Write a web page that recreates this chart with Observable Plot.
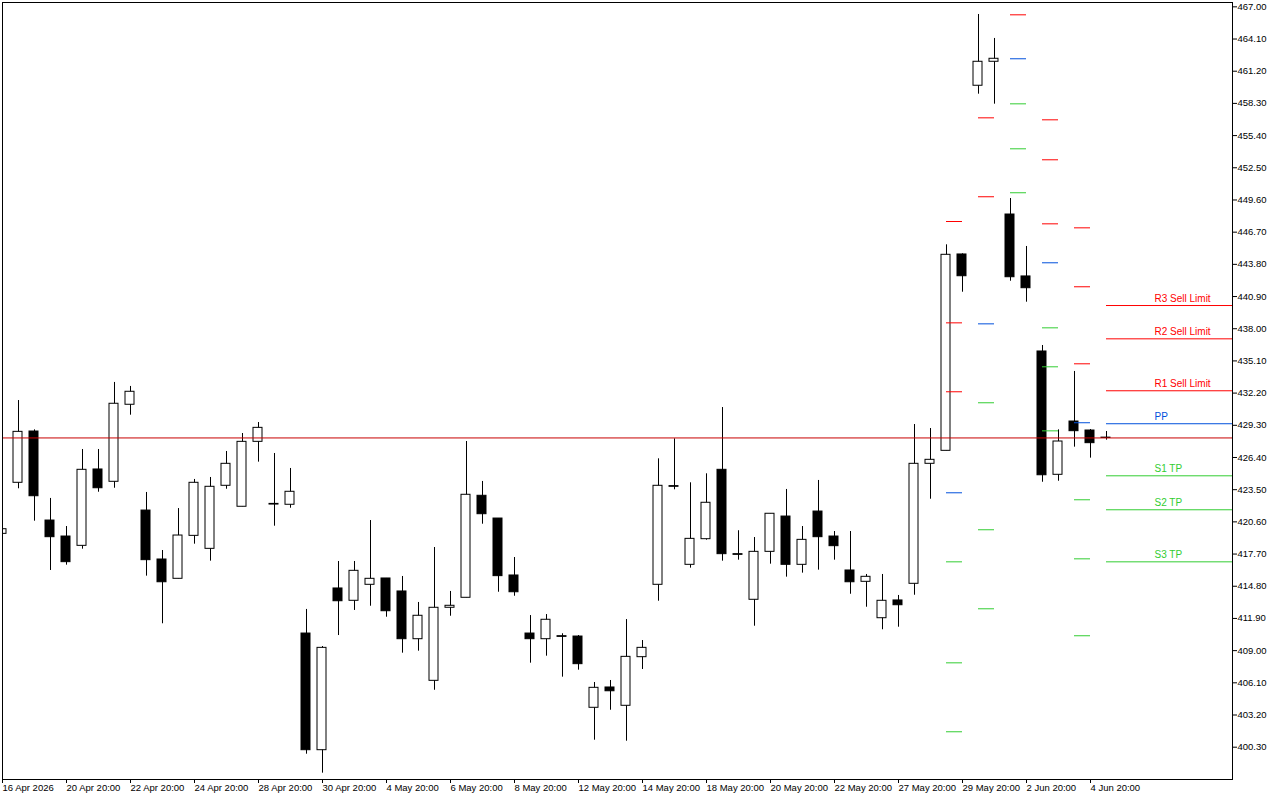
<!DOCTYPE html>
<html>
<head>
<meta charset="utf-8">
<script src="https://cdn.jsdelivr.net/npm/d3@7"></script>
<script src="https://cdn.jsdelivr.net/npm/@observablehq/plot@0.6"></script>
<style>
  html, body { margin: 0; padding: 0; background: #ffffff; }
  #chart { width: 1280px; height: 800px; overflow: hidden; }
</style>
</head>
<body>
<div id="chart"></div>
<script>
// ---- Candle data (one bar per index) ----
const opens = [419.52,424.12,428.74,420.72,419.28,418.44,425.32,424.21,431.15,421.62,
  417.21,415.47,419.34,418.17,423.85,421.96,427.81,422.22,422.14,410.54,
  400.03,414.60,413.49,414.93,415.50,414.33,410.03,406.28,412.86,413.76,
  422.95,420.90,415.77,410.54,410.03,410.30,410.27,403.85,405.68,404.03,
  408.41,414.93,423.82,416.73,419.04,425.29,417.69,413.58,417.90,421.08,
  416.73,421.53,419.28,416.22,415.20,411.92,413.52,415.02,425.83,427.00,
  444.69,459.89,462.05,448.29,442.71,435.95,424.84,429.64,428.83,428.19];
const highs = [420.09,431.53,428.89,422.71,420.18,427.12,427.12,433.16,432.80,423.25,
  418.02,421.80,424.42,424.60,426.94,428.56,429.55,426.76,425.41,412.71,
  409.37,417.03,417.03,420.72,415.50,415.68,413.34,418.29,414.33,427.84,
  424.24,420.90,417.39,412.16,412.25,410.52,410.36,406.13,406.31,411.80,
  409.91,426.28,428.08,424.12,424.93,430.90,419.80,419.19,421.33,423.52,
  420.18,424.33,419.73,419.73,415.86,415.86,413.97,429.37,429.01,445.56,
  444.75,466.31,464.15,449.73,445.41,436.49,428.89,434.15,428.92,428.74];
const lows = [419.37,423.58,420.66,416.22,416.70,418.14,423.27,423.63,430.21,415.71,
  411.42,415.47,418.59,417.06,423.54,421.96,425.98,420.21,421.83,399.67,
  397.96,410.36,412.62,413.00,412.01,408.77,408.95,405.43,412.10,413.76,
  420.39,414.26,413.90,407.87,408.50,406.61,407.24,400.93,403.63,400.84,
  407.30,413.45,423.49,416.43,418.95,417.06,417.15,411.20,416.79,415.62,
  415.98,416.25,417.15,414.08,412.91,410.88,411.11,413.99,422.64,427.00,
  441.29,459.13,458.23,442.28,440.39,424.17,424.26,427.33,426.34,427.96];
const closes = [419.94,428.71,422.91,419.22,416.97,425.29,423.63,431.24,432.32,417.15,
  415.16,419.37,424.12,423.76,425.83,427.81,429.07,422.16,423.31,400.03,
  409.25,413.45,416.19,415.47,412.55,410.03,412.14,412.86,413.04,423.04,
  421.29,415.71,414.26,410.03,411.78,410.24,407.78,405.65,405.34,408.44,
  409.25,423.85,423.76,419.07,422.32,417.69,417.63,417.90,421.33,416.73,
  418.98,419.22,418.41,415.16,415.65,413.49,413.09,425.83,426.19,444.66,
  442.73,462.05,462.32,442.64,441.65,424.80,427.84,428.77,427.69,428.16];

// ---- Axis tick labels ----
const xTickBars = [0,4,8,12,16,20,24,28,32,36,40,44,48,52,56,60,64,68];
const xTickLabels = ["16 Apr 2026","20 Apr 20:00","22 Apr 20:00","24 Apr 20:00","28 Apr 20:00",
  "30 Apr 20:00","4 May 20:00","6 May 20:00","8 May 20:00","12 May 20:00","14 May 20:00",
  "18 May 20:00","20 May 20:00","22 May 20:00","27 May 20:00","29 May 20:00","2 Jun 20:00","4 Jun 20:00"];
const yTicks = [467.00,464.10,461.20,458.30,455.40,452.50,449.60,446.70,443.80,440.90,438.00,
  435.10,432.20,429.30,426.40,423.50,420.60,417.70,414.80,411.90,409.00,406.10,403.20,400.30];

// ---- Pivot levels (drawn from bar index, one bar wide; the last runs to the edge) ----
const pivotBars = [59, 61, 63, 65, 67, 69];
const r3 = [447.66, null,   null,   456.82, 447.09, 440.09];
const r2 = [438.53, 457.00, null,   453.22, 441.78, 437.09];
const r1 = [432.32, 449.89, 466.28, 447.45, 434.84, 432.41];
const pp = [423.22, 438.44, 462.32, 443.94, 429.53, 429.44];
const s1 = [417.00, 431.33, 458.26, 438.08, 422.59, 424.75];
const s2 = [407.90, 419.89, 454.21, 434.57, 417.27, 421.69];
const s3 = [401.69, 412.77, 450.25, 428.80, 410.34, 417.00];
const levelNames = ["R3 Sell Limit","R2 Sell Limit","R1 Sell Limit","PP","S1 TP","S2 TP","S3 TP"];
const lastPrice = 428.16;

const RED = "#ff0000", BLUE = "#0050dc", GREEN = "#32cd32", PRICE = "#c80000";
const levelSeries = [r3, r2, r1, pp, s1, s2, s3];
const levelColors = [RED, RED, RED, BLUE, GREEN, GREEN, GREEN];

const xDomain = [0, 76.875];
const yDomain = [397.39, 467.39];

const candles = opens.map((o, i) => ({
  i, o, h: highs[i], l: lows[i], c: closes[i], up: closes[i] >= o
}));

const lastIdx = pivotBars.length - 1;
const segs = [];
levelSeries.forEach((arr, li) => {
  arr.forEach((v, j) => {
    if (v == null) return;
    segs.push({
      x1: pivotBars[j],
      x2: j === lastIdx ? xDomain[1] : pivotBars[j] + 1,
      y: v, color: levelColors[li]
    });
  });
});
const lastLabels = levelSeries.map((arr, li) => ({
  x: pivotBars[lastIdx] + 3, y: arr[lastIdx], name: levelNames[li], color: levelColors[li]
}));

const FONT = "'Liberation Sans', Arial, sans-serif";

const chart = Plot.plot({
  width: 1280,
  height: 800,
  marginTop: 2,
  marginLeft: 2,
  marginRight: 48,
  marginBottom: 21,
  style: { fontFamily: FONT, fontSize: "10px", background: "#ffffff", color: "#000" },
  x: { domain: xDomain, axis: null },
  y: { domain: yDomain, axis: null },
  color: { type: "identity" },
  marks: [
    Plot.ruleX(candles, { x: "i", y1: "l", y2: "h", stroke: "#000", strokeWidth: 1, clip: true }),
    Plot.rect(candles, {
      x1: d => d.i - 0.3125, x2: d => d.i + 0.25,
      y1: d => Math.min(d.o, d.c), y2: d => Math.max(d.o, d.c),
      fill: d => d.up ? "#ffffff" : "#000000",
      stroke: "#000", strokeWidth: 1, clip: true
    }),
    Plot.ruleY(segs, { y: "y", x1: "x1", x2: "x2", stroke: "color", strokeWidth: 1, clip: true }),
    Plot.ruleY([lastPrice], { y: d => d, stroke: PRICE, strokeWidth: 1 }),
    Plot.text(lastLabels, {
      x: "x", y: "y", text: "name", fill: "color",
      textAnchor: "start", lineAnchor: "bottom", dy: -4, fontSize: 10
    }),
    Plot.frame({ stroke: "#000", strokeWidth: 1 }),
    Plot.axisY(yTicks, {
      anchor: "right", tickSize: 4, tickPadding: 1,
      tickFormat: d => d.toFixed(2), fontSize: 9.5, label: null, stroke: "#000", fill: "#000"
    }),
    Plot.axisX(xTickBars, {
      anchor: "bottom", tickSize: 4, tickPadding: 1,
      tickFormat: d => xTickLabels[xTickBars.indexOf(d)],
      textAnchor: "start", fontSize: 9.5, label: null, stroke: "#000", fill: "#000"
    }),
    Plot.text([lastPrice], {
      x: () => xDomain[1], y: d => d, text: d => d.toFixed(2),
      textAnchor: "start", dx: 4, fill: "#ffffff", fontSize: 10, ariaLabel: "price-label"
    })
  ]
});

document.getElementById("chart").appendChild(chart);

// background box behind the current price label, sized from the text itself
d3.select(chart).selectAll('g[aria-label="price-label"] text').each(function () {
  const bb = this.getBBox();
  d3.select(this.parentNode).insert("rect", "text")
    .attr("x", bb.x - 2).attr("y", bb.y + 1)
    .attr("width", bb.width + 4).attr("height", bb.height - 2)
    .attr("fill", PRICE);
});
</script>
</body>
</html>
